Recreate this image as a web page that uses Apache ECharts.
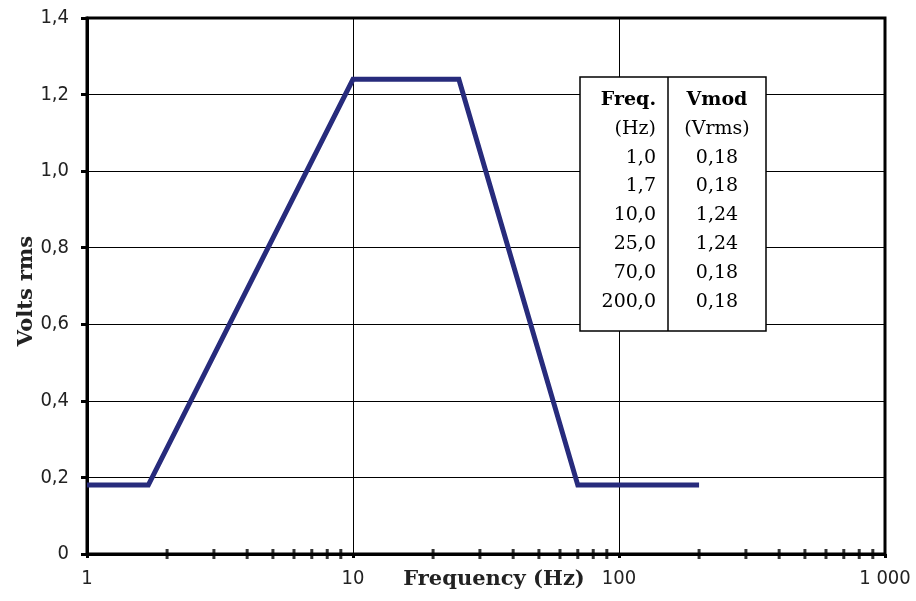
<!DOCTYPE html>
<html>
<head>
<meta charset="utf-8">
<script src="https://cdn.jsdelivr.net/npm/echarts@6/dist/echarts.min.js"></script>
<style>html,body{margin:0;padding:0;background:#fff}#c{width:916px;height:601px}</style>
</head>
<body>
<div id="c"></div>
<script>
// Data
const freqHz = [1.0, 1.7, 10.0, 25.0, 70.0, 200.0];
const vmodVrms = [0.18, 0.18, 1.24, 1.24, 0.18, 0.18];
const minorTickValues = [2,3,4,5,6,7,8,9,20,30,40,50,60,70,80,90,200,300,400,500,600,700,800,900];
const xTickLabels = {1:'1', 10:'10', 100:'100', 1000:'1 000'};
const xAxisTitle = 'Frequency (Hz)';
const yAxisTitle = 'Volts rms';
const tableHeader = ['Freq.', 'Vmod'];
const tableUnits = ['(Hz)', '(Vrms)'];

const chart = echarts.init(document.getElementById('c'));
const tickFont = '"Liberation Sans Narrow","DejaVu Sans Condensed",sans-serif';
const serif = '"DejaVu Serif","Liberation Serif",serif';

// Table graphic built from data
const tx0 = 580, tx1 = 668, tx2 = 766, ty0 = 77, ty1 = 331;
const rowY0 = 100, rowStep = 28.8;
const tf = '19px ' + serif;
const graphics = [
  {type:'text', x:494, y:580, style:{text:xAxisTitle, font:'bold 21px '+serif, fill:'#222', align:'center', verticalAlign:'middle'}, z:50},
  {type:'text', x:27, y:291, rotation:Math.PI/2, style:{text:yAxisTitle, font:'bold 21px '+serif, fill:'#222', align:'center', verticalAlign:'middle'}, z:50},
  {type:'rect', shape:{x:tx0, y:ty0, width:tx2-tx0, height:ty1-ty0}, style:{fill:'#fff', stroke:'#000', lineWidth:1.5}, z:100},
  {type:'line', shape:{x1:tx1, y1:ty0, x2:tx1, y2:ty1}, style:{stroke:'#000', lineWidth:1.5}, z:101},
  {type:'text', x:656, y:rowY0, style:{text:tableHeader[0], font:'bold '+tf, fill:'#000', align:'right', verticalAlign:'middle'}, z:102},
  {type:'text', x:717, y:rowY0, style:{text:tableHeader[1], font:'bold '+tf, fill:'#000', align:'center', verticalAlign:'middle'}, z:102},
  {type:'text', x:656, y:rowY0+rowStep, style:{text:tableUnits[0], font:tf, fill:'#000', align:'right', verticalAlign:'middle'}, z:102},
  {type:'text', x:717, y:rowY0+rowStep, style:{text:tableUnits[1], font:tf, fill:'#000', align:'center', verticalAlign:'middle'}, z:102}
];
freqHz.forEach((f, i) => {
  const y = rowY0 + rowStep * (i + 2);
  graphics.push({type:'text', x:656, y:y, style:{text:f.toFixed(1).replace('.', ','), font:tf, fill:'#000', align:'right', verticalAlign:'middle'}, z:102});
  graphics.push({type:'text', x:717, y:y, style:{text:vmodVrms[i].toFixed(2).replace('.', ','), font:tf, fill:'#000', align:'center', verticalAlign:'middle'}, z:102});
});

chart.setOption({
  animation: false,
  backgroundColor: '#fff',
  grid: {left: 87, right: 31, top: 18, bottom: 47, containLabel: false, outerBoundsMode: 'none',
         show: true, borderColor: '#000', borderWidth: 3, backgroundColor: 'transparent'},
  xAxis: {
    type: 'log', logBase: 10, min: 1, max: 1000,
    axisLine: {show: true, onZero: false, lineStyle: {color: '#000', width: 3}},
    axisTick: {show: true, length: 4, lineStyle: {color: '#000', width: 3}},
    axisLabel: {margin: 15, fontFamily: tickFont, fontSize: 20, color: '#222', formatter: v => xTickLabels[Math.round(v)] || ''},
    splitLine: {show: true, lineStyle: {color: '#000', width: 1}}
  },
  yAxis: {
    type: 'value', min: 0, max: 1.4, interval: 0.2,
    axisLine: {show: true, lineStyle: {color: '#000', width: 3}},
    axisTick: {show: true, length: 6, lineStyle: {color: '#000', width: 3}},
    axisLabel: {margin: 18, fontFamily: tickFont, fontSize: 20, color: '#222', formatter: v => v === 0 ? '0' : v.toFixed(1).replace('.', ',')},
    splitLine: {show: true, lineStyle: {color: '#000', width: 1}}
  },
  series: [
    {
      type: 'line', data: freqHz.map((f, i) => [f, vmodVrms[i]]),
      showSymbol: false, symbol: 'none',
      lineStyle: {color: '#272b7c', width: 5, join: 'miter'}, z: 5
    },
    {
      type: 'scatter', data: minorTickValues.map(v => [v, 0]),
      symbol: 'rect', symbolSize: [3, 10], clip: false,
      itemStyle: {color: '#000'}, silent: true, z: 6
    }
  ],
  graphic: graphics
});
</script>
</body>
</html>
